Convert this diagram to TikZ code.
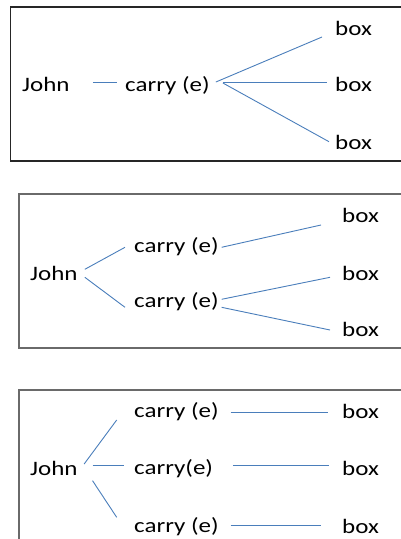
\documentclass[tikz,border=0pt]{standalone}
\usepackage{fontspec}
\setmainfont{Carlito}[FakeStretch=1.22]
\definecolor{linkblue}{HTML}{4A7EBB}
\definecolor{frameA}{HTML}{262626}
\definecolor{frameB}{HTML}{6A6A6A}
\begin{document}
\begin{tikzpicture}[x=1pt,y=-1pt,
  lbl/.style={inner sep=0pt,anchor=base west,font=\fontsize{20.5}{24}\selectfont},
  link/.style={draw=linkblue,line width=0.9pt},
  frameone/.style={draw=frameA,line width=1.1pt},
  frametwo/.style={draw=frameB,line width=1.4pt}]
\useasboundingbox (0,0) rectangle (401,539);
% frames
\draw[frameone] (402,7) -- (10.5,7) -- (10.5,161) -- (402,161);
\draw[frametwo] (402,194) -- (19,194) -- (19,348) -- (402,348);
\draw[frametwo] (402,390) -- (19,390) -- (19,541);
% ---- panel 1
\node[lbl] (J1) at (22,91) {John};
\node[lbl] (C1) at (125,91) {carry (e)};
\node[lbl] (B1a) at (335,35) {box};
\node[lbl] (B1b) at (335,91) {box};
\node[lbl] (B1c) at (335,149) {box};
\draw[link] ([xshift=23pt,yshift=9pt]J1.base east) -- ([xshift=-8pt,yshift=9pt]C1.base west);
\draw[link] ([xshift=6pt,yshift=9pt]C1.base east) -- ([xshift=-13pt,yshift=-2pt]B1a.base west);
\draw[link] ([xshift=13pt,yshift=9pt]C1.base east) -- ([xshift=-8pt,yshift=9pt]B1b.base west);
\draw[link] ([xshift=13pt,yshift=8pt]C1.base east) -- ([xshift=-6pt,yshift=7.3pt]B1c.base west);
% ---- panel 2
\node[lbl] (J2) at (30,280) {John};
\node[lbl] (C2a) at (134,252) {carry (e)};
\node[lbl] (C2b) at (134,307.5) {carry (e)};
\node[lbl] (B2a) at (342,222.5) {box};
\node[lbl] (B2b) at (342,280) {box};
\node[lbl] (B2c) at (342,336.5) {box};
\draw[link] ([xshift=7pt,yshift=10.7pt]J2.base east) -- ([xshift=-9pt,yshift=4.7pt]C2a.base west);
\draw[link] ([xshift=7pt,yshift=2.7pt]J2.base east) -- ([xshift=-9pt,yshift=0.2pt]C2b.base west);
\draw[link] ([xshift=2.7pt,yshift=4.7pt]C2a.base east) -- ([xshift=-21pt,yshift=-2.5pt]B2a.base west);
\draw[link] ([xshift=2.7pt,yshift=8.2pt]C2b.base east) -- ([xshift=-12pt,yshift=2.7pt]B2b.base west);
\draw[link] ([xshift=2.7pt,yshift=0.2pt]C2b.base east) -- ([xshift=-12pt,yshift=6.5pt]B2c.base west);
% ---- panel 3
\node[lbl] (J3) at (30,475) {John};
\node[lbl] (C3a) at (134,417.5) {carry (e)};
\node[lbl] (C3b) at (134,474.5) {carry(e)};
\node[lbl] (C3c) at (134,532) {carry (e)};
\node[lbl] (B3a) at (342,418) {box};
\node[lbl] (B3b) at (342,475) {box};
\node[lbl] (B3c) at (342,533) {box};
\draw[link] ([xshift=6.3pt,yshift=11pt]J3.base east) -- ([xshift=-17.3pt,yshift=-2.5pt]C3a.base west);
\draw[link] ([xshift=14.7pt,yshift=9.3pt]J3.base east) -- ([xshift=-9.7pt,yshift=8.8pt]C3b.base west);
\draw[link] ([xshift=14.7pt,yshift=-5.7pt]J3.base east) -- ([xshift=-17.3pt,yshift=14.7pt]C3c.base west);
\draw[link] ([xshift=11.7pt,yshift=5.2pt]C3a.base east) -- ([xshift=-13.7pt,yshift=5.7pt]B3a.base west);
\draw[link] ([xshift=19.7pt,yshift=9.5pt]C3b.base east) -- ([xshift=-12.7pt,yshift=10pt]B3b.base west);
\draw[link] ([xshift=11.7pt,yshift=7pt]C3c.base east) -- ([xshift=-21.3pt,yshift=8pt]B3c.base west);
\end{tikzpicture}
\end{document}
